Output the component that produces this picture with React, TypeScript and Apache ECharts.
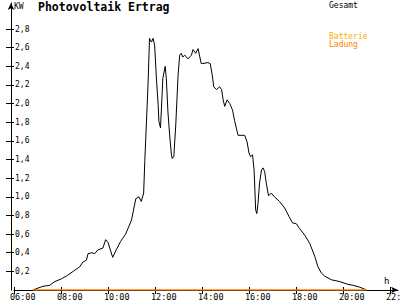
import React, { useEffect, useRef } from "react";
import * as echarts from "echarts";

// Gesamt (total PV output), time of day and kW
const times = [
  "06:48", "07:14", "07:31", "07:44", "08:01", "08:14", "08:31", "08:48", "08:56", "09:05",
  "09:09", "09:18", "09:26", "09:34", "09:47", "09:54", "10:00", "10:12", "10:21", "10:32",
  "10:45", "11:00", "11:11", "11:19", "11:25", "11:31", "11:34", "11:42", "11:46", "11:51",
  "11:55", "11:59", "12:04", "12:08", "12:10", "12:14", "12:16", "12:20", "12:26", "12:29",
  "12:33", "12:38", "12:42", "12:44", "12:48", "12:53", "12:59", "13:03", "13:07", "13:11",
  "13:16", "13:24", "13:33", "13:37", "13:44", "13:50", "13:58", "14:02", "14:15", "14:21",
  "14:26", "14:30", "14:37", "14:45", "14:50", "14:54", "14:58", "15:04", "15:11", "15:18",
  "15:23", "15:32", "15:49", "15:55", "16:00", "16:04", "16:09", "16:13", "16:17", "16:20",
  "16:23", "16:27", "16:32", "16:36", "16:40", "16:44", "16:50", "16:57", "17:05", "17:18",
  "17:31", "17:42", "17:51", "18:01", "18:09", "18:22", "18:35", "18:48", "18:56", "19:05",
  "19:13", "19:30", "19:52", "20:13", "20:26", "20:43", "21:00",
];
const gesamtKw = [
  0.0, 0.04, 0.05, 0.09, 0.12, 0.15, 0.2, 0.25, 0.3, 0.32,
  0.39, 0.4, 0.39, 0.43, 0.45, 0.54, 0.51, 0.35, 0.43, 0.52,
  0.6, 0.75, 0.98, 1.0, 0.95, 1.04, 1.39, 2.18, 2.7, 2.66,
  2.7, 2.63, 2.24, 1.99, 1.81, 1.74, 1.91, 2.27, 2.4, 2.27,
  1.91, 1.63, 1.45, 1.41, 1.43, 1.77, 2.31, 2.52, 2.54, 2.5,
  2.52, 2.48, 2.52, 2.58, 2.54, 2.59, 2.43, 2.43, 2.44, 2.43,
  2.31, 2.18, 2.15, 2.18, 2.15, 2.04, 1.97, 2.04, 2.0, 1.93,
  1.82, 1.66, 1.66, 1.59, 1.47, 1.43, 1.45, 1.29, 0.86, 0.82,
  0.93, 1.15, 1.29, 1.31, 1.27, 1.15, 1.01, 1.04, 1.0, 0.95,
  0.88, 0.79, 0.72, 0.71, 0.66, 0.59, 0.5, 0.36, 0.25, 0.18,
  0.15, 0.11, 0.09, 0.06, 0.05, 0.03, 0.0,
];

// Ladung (battery charging) - zero over the whole day
const ladungTimes = ["06:48", "21:00"];
const ladungKw = [0, 0];

const xTickHours = [6, 8, 10, 12, 14, 16, 18, 20, 22];
const yTickValues = [0.2, 0.4, 0.6, 0.8, 1.0, 1.2, 1.4, 1.6, 1.8, 2.0, 2.2, 2.4, 2.6, 2.8];

const titleText = "Photovoltaik Ertrag";
const yUnit = "KW";
const xUnit = "h";
const legendNames = ["Gesamt", "Batterie", "Ladung"];

const toHours = (s: string) => {
  const [h, m] = s.split(":").map(Number);
  return h + m / 60;
};
const fmtHour = (v: number) => String(Math.round(v)).padStart(2, "0") + ":00";
const fmtKw = (v: number) => v.toFixed(1).replace(".", ",");

const FONT = "DejaVu Sans Mono";

export default function App() {
  const ref = useRef<HTMLDivElement>(null);

  useEffect(() => {
    if (!ref.current) return;
    const chart = echarts.init(ref.current, undefined, { renderer: "svg" });

    const xMin = 6;
    const xMax = 6 + 384 / 23.5;
    const yMax = 287 / 93.2;

    const gesamtData = times.map((t, i) => [toHours(t), gesamtKw[i]]);
    const ladungData = ladungTimes.map((t, i) => [toHours(t), ladungKw[i]]);

    const baseX = {
      type: "value",
      min: xMin,
      max: xMax,
      position: "bottom",
      splitLine: { show: false },
    };
    const baseY = {
      type: "value",
      min: 0,
      max: yMax,
      position: "left",
      offset: 3,
      splitLine: { show: false },
    };

    chart.setOption({
      animation: false,
      backgroundColor: "#ffffff",
      title: {
        text: titleText,
        left: 38,
        top: 1,
        padding: 0,
        textStyle: { fontFamily: FONT, fontWeight: "bold", fontSize: 11.5, color: "#000" },
      },
      grid: {
        left: 14,
        right: 2,
        top: 3,
        bottom: 10,
        containLabel: false,
        outerBoundsMode: "none",
      },
      xAxis: [
        {
          ...baseX,
          axisLine: {
            show: true,
            lineStyle: { color: "#000", width: 1 },
            symbol: ["none", "arrow"],
            symbolSize: [5, 7],
          },
          axisTick: {
            show: true,
            customValues: xTickHours,
            length: 4,
            lineStyle: { color: "#000", width: 1 },
          },
          axisLabel: {
            show: true,
            customValues: xTickHours,
            formatter: fmtHour,
            fontFamily: FONT,
            fontSize: 8.5,
            color: "#000",
            align: "left",
            padding: [0, 0, 0, -4],
            margin: 2,
            hideOverlap: false,
          },
        },
        {
          ...baseX,
          axisLine: { show: false },
          axisTick: {
            show: true,
            inside: true,
            customValues: xTickHours,
            length: 3,
            lineStyle: { color: "#000", width: 1 },
          },
          axisLabel: { show: false },
        },
      ],
      yAxis: [
        {
          ...baseY,
          axisLine: {
            show: true,
            lineStyle: { color: "#000", width: 1 },
            symbol: ["none", "arrow"],
            symbolSize: [5, 7],
          },
          axisTick: {
            show: true,
            customValues: yTickValues,
            length: 5,
            lineStyle: { color: "#000", width: 1 },
          },
          axisLabel: {
            show: true,
            inside: true,
            customValues: yTickValues,
            formatter: fmtKw,
            fontFamily: FONT,
            fontSize: 8,
            color: "#000",
            margin: 4,
          },
        },
        {
          ...baseY,
          axisLine: { show: false },
          axisTick: {
            show: true,
            inside: true,
            customValues: yTickValues,
            length: 3,
            lineStyle: { color: "#000", width: 1 },
          },
          axisLabel: { show: false },
        },
      ],
      series: [
        {
          name: legendNames[0],
          type: "line",
          xAxisIndex: 0,
          yAxisIndex: 0,
          data: gesamtData,
          symbol: "none",
          lineStyle: { color: "#000", width: 1 },
          z: 3,
        },
        {
          name: legendNames[2],
          type: "line",
          xAxisIndex: 0,
          yAxisIndex: 0,
          data: ladungData,
          symbol: "none",
          lineStyle: { color: "#ff8000", width: 1.5 },
          z: 4,
        },
      ],
      graphic: [
        {
          type: "text",
          left: 14,
          top: 2,
          style: { text: yUnit, fontFamily: FONT, fontSize: 8, fill: "#000" },
        },
        {
          type: "text",
          left: 384,
          top: 276,
          style: { text: xUnit, fontFamily: FONT, fontSize: 9, fill: "#000" },
        },
        {
          type: "text",
          left: 329,
          top: 1,
          style: { text: legendNames[0], fontFamily: FONT, fontSize: 8, fill: "#000" },
        },
        {
          type: "text",
          left: 329,
          top: 32,
          style: { text: legendNames[1], fontFamily: FONT, fontSize: 8, fill: "#ffaa00" },
        },
        {
          type: "text",
          left: 329,
          top: 40,
          style: { text: legendNames[2], fontFamily: FONT, fontSize: 8, fill: "#ff8000" },
        },
      ],
    });

    return () => chart.dispose();
  }, []);

  return (
    <div
      ref={ref}
      style={{ position: "fixed", left: 0, top: 0, width: 400, height: 300, background: "#fff" }}
    />
  );
}
